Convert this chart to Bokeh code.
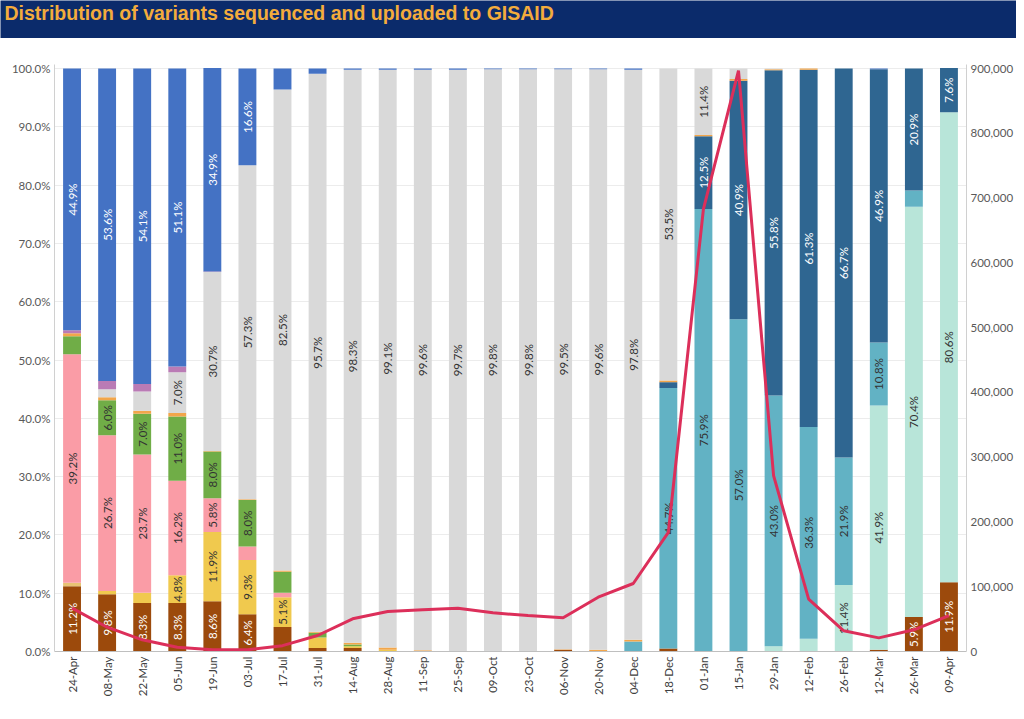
import math
from bokeh.plotting import figure
from bokeh.models import (ColumnDataSource, Range1d, LinearAxis, FactorRange,
                          PrintfTickFormatter, NumeralTickFormatter, FixedTicker, Label)
from bokeh.layouts import column
from bokeh.embed import file_html
from bokeh.resources import INLINE
from bokeh.core.properties import value

# ---------------- data ----------------
dates = ["24-Apr", "08-May", "22-May", "05-Jun", "19-Jun", "03-Jul", "17-Jul", "31-Jul",
         "14-Aug", "28-Aug", "11-Sep", "25-Sep", "09-Oct", "23-Oct", "06-Nov", "20-Nov",
         "04-Dec", "18-Dec", "01-Jan", "15-Jan", "29-Jan", "12-Feb", "26-Feb", "12-Mar",
         "26-Mar", "09-Apr"]

s_brown = [11.2, 9.8, 8.3, 8.3, 8.6, 6.4, 4.2, 0.6, 0.6, 0.1, 0.1, 0.1, 0.1, 0.1, 0.3, 0.1,
           0.1, 0.5, 0, 0, 0, 0, 0, 0.3, 5.9, 11.9]
s_tan = [0.6, 0, 0, 0, 0, 0, 0, 0, 0, 0, 0, 0, 0, 0, 0, 0, 0, 0, 0, 0, 0, 0, 0, 0, 0, 0]
s_yellow = [0, 0.6, 1.8, 4.8, 11.9, 9.3, 5.1, 1.8, 0.3, 0.2, 0, 0, 0, 0, 0, 0,
            0, 0, 0, 0, 0, 0, 0, 0, 0, 0]
s_pink = [39.2, 26.7, 23.7, 16.2, 5.8, 2.3, 0.8, 0, 0, 0, 0, 0, 0, 0, 0, 0,
          0, 0, 0, 0, 0, 0, 0, 0, 0, 0]
s_green = [3.1, 6.0, 7.0, 11.0, 8.0, 8.0, 3.6, 0.8, 0.3, 0, 0, 0, 0, 0, 0, 0,
           0, 0, 0, 0, 0, 0, 0, 0, 0, 0]
s_mint = [0, 0, 0, 0, 0, 0, 0, 0, 0, 0, 0, 0, 0, 0, 0, 0,
          0, 0, 0, 0, 0.9, 2.2, 11.4, 41.9, 70.4, 80.6]
s_teal = [0, 0, 0, 0, 0, 0, 0, 0, 0, 0, 0, 0, 0, 0, 0, 0,
          1.6, 44.7, 75.9, 57.0, 43.0, 36.3, 21.9, 10.8, 2.8, 0]
s_darkblue = [0, 0, 0, 0, 0, 0, 0, 0, 0, 0, 0, 0, 0, 0, 0, 0,
              0, 1.0, 12.5, 40.9, 55.8, 61.3, 66.7, 46.9, 20.9, 7.6]
s_orange = [0.5, 0.5, 0.5, 0.6, 0.1, 0.1, 0.2, 0.2, 0.3, 0.4, 0.1, 0, 0, 0, 0.1, 0.2,
            0.3, 0.3, 0.2, 0.3, 0.2, 0.2, 0, 0, 0, 0]
s_gray = [0, 1.4, 3.3, 7.0, 30.7, 57.3, 82.5, 95.7, 98.3, 99.1, 99.6, 99.7, 99.8, 99.8, 99.5, 99.6,
          97.8, 53.5, 11.4, 1.8, 0.1, 0, 0, 0, 0, 0]
s_mauve = [0.5, 1.4, 1.3, 1.0, 0.1, 0, 0, 0, 0, 0, 0, 0, 0, 0, 0, 0,
           0, 0, 0, 0, 0, 0, 0, 0, 0, 0]
s_blue = [44.9, 53.6, 54.1, 51.1, 34.9, 16.6, 3.6, 0.9, 0.2, 0.2, 0.2, 0.2, 0.1, 0.1, 0.1, 0.1,
          0.2, 0, 0, 0, 0, 0, 0, 0.1, 0, 0]

cases = [67000, 37500, 18000, 6600, 2600, 2600, 9000, 24700, 50500, 61700, 64300, 66800,
         59700, 55500, 52000, 83800, 105000, 184000, 683000, 897000, 271600, 81000, 32000,
         21000, 33500, 55500]

pct_ticks = [0, 10, 20, 30, 40, 50, 60, 70, 80, 90, 100]
case_ticks = [0, 100000, 200000, 300000, 400000, 500000, 600000, 700000, 800000, 900000]

title_text = "Distribution of variants sequenced and uploaded to GISAID"

# ---------------- styling ----------------
series_names = ["brown", "tan", "yellow", "pink", "green", "mint", "teal", "darkblue",
                "orange", "gray", "mauve", "blue"]
series_values = [s_brown, s_tan, s_yellow, s_pink, s_green, s_mint, s_teal, s_darkblue,
                 s_orange, s_gray, s_mauve, s_blue]
colors = ["#9C4A0C", "#E8C374", "#F0C94E", "#FA9CA6", "#70AD47", "#B8E5D9", "#62B2C4",
          "#2F6691", "#F2A64B", "#D9D9D9", "#BA7BB5", "#4472C4"]
label_colors = ["#FFFFFF", "#333333", "#333333", "#333333", "#333333", "#333333", "#333333",
                "#FFFFFF", "#333333", "#333333", "#FFFFFF", "#FFFFFF"]

FONT = "Lato"
Y_TOP = 100.7
W = 1016
NAVY = "#0b2b6b"

# ---------------- banner ----------------
banner = figure(width=W, height=38, x_range=Range1d(0, 1), y_range=Range1d(0, 1),
                output_backend="svg", toolbar_location=None, min_border=0,
                x_axis_location=None, y_axis_location=None,
                background_fill_color=NAVY, border_fill_color=NAVY,
                outline_line_color=None, frame_align=False)
banner.grid.visible = False
banner.add_layout(Label(x=4, y=26, x_units="screen", y_units="screen",
                        text=title_text, text_font="Liberation Sans", text_font_style="bold",
                        text_font_size="19.5px", text_color="#F3AC3C",
                        text_baseline="middle", text_align="left"))

# ---------------- main chart ----------------
data = dict(date=dates)
for n, v in zip(series_names, series_values):
    data[n] = v
src = ColumnDataSource(data)

p = figure(x_range=FactorRange(factors=dates, range_padding=0), y_range=Range1d(0, Y_TOP),
           width=W, height=665, output_backend="svg", toolbar_location=None,
           min_border_left=54, min_border_right=49, min_border_top=26,
           min_border_bottom=52, outline_line_color=None, frame_align=False)

p.vbar_stack(series_names, x="date", width=0.51, fill_color=colors, line_color=None,
             source=src)

# data labels
lx, ly, lt, lc = [], [], [], []
for i, d in enumerate(dates):
    base = 0.0
    for vals, tc in zip(series_values, label_colors):
        v = vals[i]
        if v >= 4.5:
            lx.append(d)
            ly.append(base + v / 2)
            lt.append(f"{v:.1f}%")
            lc.append(tc)
        base += v
lab = ColumnDataSource(dict(x=lx, y=ly, t=lt, c=lc))
p.text(x="x", y="y", text="t", text_color="c", angle=math.pi / 2, text_align="center",
       text_baseline="middle", text_font=value(FONT), text_font_size="11.5px", source=lab)

# secondary axis line
p.extra_y_ranges = {"cases": Range1d(0, 900000 * Y_TOP / 100)}
line_src = ColumnDataSource(dict(x=dates, y=cases))
p.line(x="x", y="y", source=line_src, y_range_name="cases", line_color="#DC2F5A",
       line_width=3)

right = LinearAxis(y_range_name="cases", ticker=FixedTicker(ticks=case_ticks),
                   formatter=NumeralTickFormatter(format="0,0"))
p.add_layout(right, "right")

p.yaxis[0].ticker = FixedTicker(ticks=pct_ticks)
p.yaxis[0].formatter = PrintfTickFormatter(format="%.1f%%")

for ax in p.yaxis:
    ax.major_tick_line_color = None
    ax.minor_tick_line_color = None
    ax.major_tick_out = 0
    ax.major_label_standoff = 4
    ax.axis_line_color = "#D0D0D0"
    ax.major_label_text_font = FONT
    ax.major_label_text_font_size = "11.5px"
    ax.major_label_text_color = "#595959"

xa = p.xaxis[0]
xa.major_label_orientation = math.pi / 2
xa.major_tick_line_color = None
xa.minor_tick_line_color = None
xa.major_tick_out = 0
xa.major_label_standoff = 5
xa.axis_line_color = "#BFBFBF"
xa.major_label_text_font = FONT
xa.major_label_text_font_size = "11.5px"
xa.major_label_text_color = "#404040"

p.xgrid.visible = False
p.ygrid.grid_line_color = "#ECECEC"
p.ygrid.ticker = FixedTicker(ticks=pct_ticks)

layout = column(banner, p, spacing=0)
open("out.html", "w").write(file_html(layout, INLINE))
